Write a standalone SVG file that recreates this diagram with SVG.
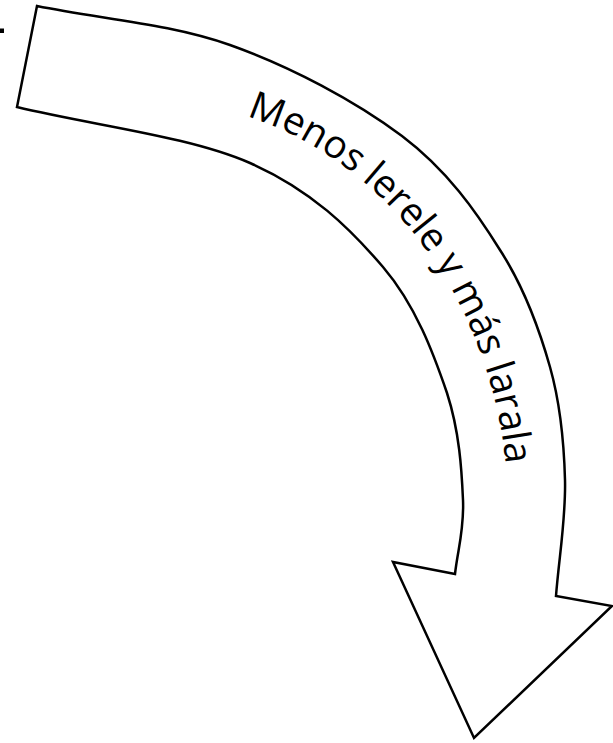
<svg xmlns="http://www.w3.org/2000/svg" width="613" height="743" viewBox="0 0 613 743">
  <style>
    .arrow { fill: #ffffff; stroke: #000000; stroke-width: 2.5; stroke-linejoin: miter; }
    .label { font-family: "Open Sans", "Liberation Sans", sans-serif; font-size: 38.8px; fill: #000000; }
  </style>
  <defs>
    <path id="baseline" d="M150,101 A358,409 0 0 1 508,510" fill="none"/>
  </defs>
  <rect x="0" y="28.5" width="4" height="4.5" fill="#000000"/>
  <g id="curved-arrow">
    <path class="arrow" d="M37,6
      C101,19 169.5,23.5 230,45
      C290.5,66.5 355,100.8 402,136
      C447,170 476,211.3 500,250
      C525,288.7 539.2,328.7 550,367
      C560.8,405.3 564,441.8 565,480
      C566,518.2 559,557.3 556,596
      L612,606 L474,738 L393,562 L455,574
      C457.7,549.3 464.3,530.2 463,500
      C461.7,469.8 459.5,431.8 447,393
      C433.7,354.2 415.8,305.3 383,267
      C350.2,228.7 311,189.7 250,163
      C189,136.3 94.7,125.7 17,107 Z"/>
    <text class="label"><textPath href="#baseline" startOffset="98">Menos lerele y más larala</textPath></text>
  </g>
</svg>
